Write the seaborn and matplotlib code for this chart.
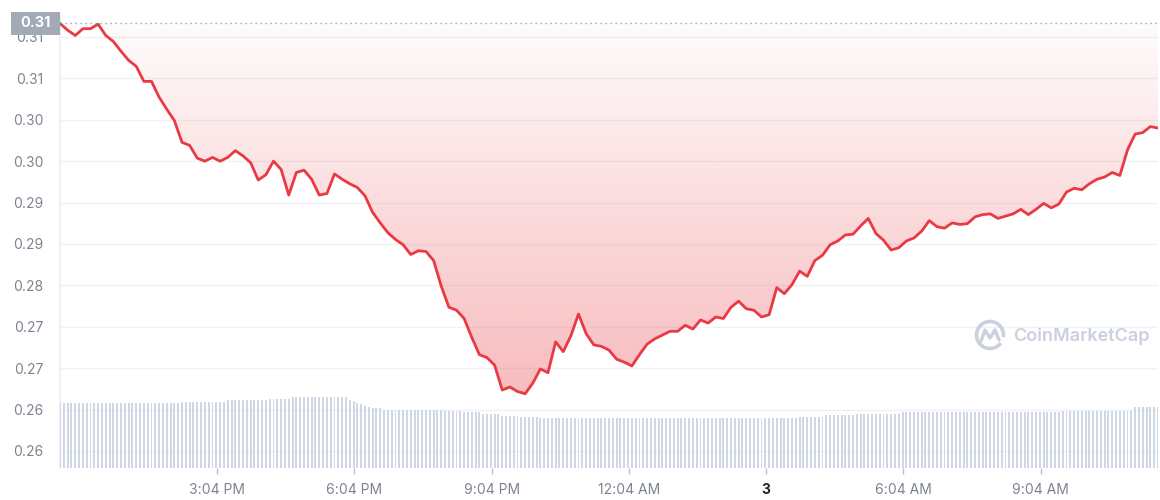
import numpy as np
import pandas as pd
import seaborn as sns
import matplotlib.pyplot as plt
import matplotlib.dates as mdates
import matplotlib.transforms as mtransforms
from matplotlib.colors import to_rgb
from matplotlib.patches import Rectangle, Arc
from matplotlib.lines import Line2D

# price every 10 minutes, starting 11:38
price = [
    0.3148, 0.3139, 0.3132, 0.3141, 0.3141, 0.3147, 0.3132, 0.3124, 0.3111, 0.3099,
    0.3091, 0.3071, 0.3071, 0.3050, 0.3034, 0.3019, 0.2990, 0.2986, 0.2969, 0.2965,
    0.2970, 0.2965, 0.2970, 0.2979, 0.2972, 0.2963, 0.2940, 0.2947, 0.2965, 0.2954,
    0.2920, 0.2950, 0.2953, 0.2941, 0.2920, 0.2922, 0.2948, 0.2941, 0.2935, 0.2930,
    0.2919, 0.2897, 0.2883, 0.2870, 0.2861, 0.2854, 0.2841, 0.2846, 0.2845, 0.2833,
    0.2799, 0.2771, 0.2767, 0.2756, 0.2731, 0.2708, 0.2704, 0.2694, 0.2661, 0.2665,
    0.2659, 0.2656, 0.2670, 0.2689, 0.2684, 0.2725, 0.2712, 0.2733, 0.2762, 0.2736,
    0.2721, 0.2719, 0.2714, 0.2702, 0.2698, 0.2693, 0.2708, 0.2722, 0.2729, 0.2734,
    0.2739, 0.2739, 0.2747, 0.2742, 0.2754, 0.2750, 0.2758, 0.2756, 0.2771, 0.2779,
    0.2769, 0.2767, 0.2758, 0.2761, 0.2797, 0.2789, 0.2801, 0.2819, 0.2812, 0.2833,
    0.2840, 0.2854, 0.2859, 0.2867, 0.2868, 0.2879, 0.2889, 0.2869, 0.2860, 0.2847,
    0.2850, 0.2859, 0.2863, 0.2872, 0.2886, 0.2878, 0.2876, 0.2883, 0.2881, 0.2882,
    0.2891, 0.2894, 0.2895, 0.2889, 0.2892, 0.2895, 0.2901, 0.2894, 0.2901, 0.2909,
    0.2903, 0.2908, 0.2924, 0.2929, 0.2927, 0.2935, 0.2941, 0.2944, 0.2950, 0.2946,
    0.2980, 0.3001, 0.3003, 0.3011, 0.3009,
]

# 24h volume (millions), every 5 minutes
volume = [
    123, 123, 123, 123, 123, 123, 123, 123, 123, 123, 123, 123, 123, 123, 123, 123,
    123, 123, 123, 123, 123, 123, 123, 123, 123, 123, 123, 123, 123, 123, 123, 123,
    125, 125, 125, 125, 125, 125, 125, 125, 125, 125, 125, 125,
    129, 129, 129, 129, 129, 129, 129, 129, 129, 129, 129,
    131, 131, 131, 131, 131, 131,
    134, 134, 134, 134, 134, 134, 134, 134, 134, 134, 134, 134, 134, 134, 134,
    130, 127, 124, 121, 118, 116,
    114, 114, 114,
    111, 111, 111, 111, 111, 111, 111, 111, 111, 111, 111, 111, 111, 111, 111, 111,
    108, 108, 108, 108, 108,
    106, 106, 106, 106, 106,
    103, 103, 103, 103, 103,
    99, 99, 99, 99, 99,
    96, 96, 96, 96, 96,
    94, 94, 94, 94, 94, 94, 94, 94, 94, 94, 94, 94, 94, 94, 94, 94, 94,
    94, 94, 94, 94, 94, 94, 94, 94, 94, 94, 94, 94, 94, 94, 94, 94, 94,
    94, 94, 94, 94, 94, 94, 94, 94, 94, 94, 94, 94, 94, 94, 94, 94, 94,
    94, 94, 94, 94, 94, 94, 94, 94, 94, 94, 94, 94, 94, 94, 94, 94, 94,
    96, 96, 96, 96, 96, 96, 96,
    100, 100, 100, 100, 100, 100, 100, 100,
    103, 103, 103, 103, 103, 103, 103, 103, 103, 103, 103, 103,
    106, 106, 106, 106, 106, 106, 106, 106, 106, 106, 106, 106, 106, 106,
    106, 106, 106, 106, 106, 106, 106, 106, 106, 106, 106, 106, 106, 106,
    106, 106, 106, 106, 106, 106, 106, 106, 106, 106, 106, 106, 106, 106,
    108, 108, 108, 108, 108, 108, 108, 108, 108, 108, 108, 108, 108, 108, 108, 108, 108, 108, 108,
    115, 115, 115, 115, 115, 115, 115,
]

open_price = 0.3148
open_label = "0.31"

y_ticks = [0.258, 0.2635, 0.269, 0.2745, 0.280, 0.2855, 0.291, 0.2965, 0.302, 0.3075, 0.313]
y_labels = ["0.26", "0.26", "0.27", "0.27", "0.28", "0.29", "0.29", "0.30", "0.30", "0.31", "0.31"]

x_tick_times = ["2024-05-02 15:04", "2024-05-02 18:04", "2024-05-02 21:04", "2024-05-03 00:04",
                "2024-05-03 03:04", "2024-05-03 06:04", "2024-05-03 09:04"]
x_labels = ["3:04 PM", "6:04 PM", "9:04 PM", "12:04 AM", "3", "6:04 AM", "9:04 AM"]

start = pd.Timestamp("2024-05-02 11:38")
price_time = pd.date_range(start, periods=len(price), freq="10min")
vol_time = pd.date_range(start, periods=len(volume), freq="5min")
df = pd.DataFrame({"time": price_time, "price": price})

RED = "#ea3943"
GREEN = "#16c784"
GREY = "#7d8391"

sns.set_theme(style="white")
plt.rcParams["font.family"] = ["Inter", "DejaVu Sans"]

fig = plt.figure(figsize=(11.6, 5), dpi=100)
ax = fig.add_axes([60 / 1160, 32 / 500, 1098 / 1160, 453 / 500])

ymin, ymax = 0.25574, 0.31592
x0 = mdates.date2num(start)
x1 = mdates.date2num(start + pd.Timedelta(hours=24))

# gradient fill between price and the opening price
poly = ax.fill_between(df["time"], df["price"], open_price, color="none", lw=0)
rgba = np.zeros((256, 1, 4))
rgba[..., :3] = to_rgb(RED)
rgba[..., 3] = np.linspace(0.34, 0.02, 256)[:, None]
im = ax.imshow(rgba, extent=[x0, x1, min(price), open_price], origin="lower",
               aspect="auto", zorder=1, interpolation="bilinear")
im.set_clip_path(poly.get_paths()[0], transform=ax.transData)

sns.lineplot(data=df, x="time", y="price", color=RED, lw=2, ax=ax, zorder=4)
sns.lineplot(data=df, x="time", y="price", color=GREEN, lw=2, ax=ax, zorder=5)
clip = Rectangle((x0, open_price - 0.00012), x1 - x0, 0.01, transform=ax.transData)
ax.lines[-1].set_clip_path(clip)

ax.axhline(open_price, color="#98a1b2", ls=(0, (1, 2.6)), lw=1, zorder=3)

ax.set_xlim(x0, x1)
ax.set_ylim(ymin, ymax)
ax.set_yticks(y_ticks, y_labels)
ax.set_xticks(pd.to_datetime(x_tick_times), x_labels)
ax.set_xlabel("")
ax.set_ylabel("")
ax.yaxis.grid(True, color="#eff2f5", lw=1)
ax.xaxis.grid(False)
for s in ["top", "right", "bottom"]:
    ax.spines[s].set_visible(False)
ax.spines["left"].set_color("#eceff3")
ax.tick_params(axis="y", length=0, pad=12, labelsize=10, labelcolor=GREY)
ax.tick_params(axis="x", length=4, width=1, color="#b8bfcc", pad=7, labelsize=10,
               labelcolor=GREY, bottom=True, direction="out")
lbl = ax.get_xticklabels()[4]
lbl.set_fontweight("bold")
lbl.set_color("#222531")

# volume bars
ax2 = ax.twinx()
ax2.bar(vol_time, volume, width=2.6 / 1440, color="#cfd6e4", lw=0)
ax2.set_ylim(0, 860)
ax2.set_xlim(x0, x1)
ax2.set_yticks([])
for s in ax2.spines.values():
    s.set_visible(False)

# opening price badge
trans = mtransforms.blended_transform_factory(ax.transAxes, ax.transData)
badge_h = 0.00306
ax.add_patch(Rectangle((-49 / 1098, open_price - badge_h / 2), 49 / 1098, badge_h,
                       transform=trans, fc="#a3a9b6", ec="none", clip_on=False, zorder=6))
ax.text(-24.5 / 1098, open_price, open_label, transform=trans, ha="center", va="center",
        color="white", fontsize=10.5, fontweight="bold", zorder=7)

# watermark
wm = "#cbd1dc"
fig.text(1013 / 1160, 1 - 336 / 500, "CoinMarketCap", color=wm, fontsize=13,
         fontweight="semibold", ha="left", va="center")
fig.add_artist(Arc((990 / 1160, 1 - 335 / 500), 27 / 1160, 27 / 500, theta1=-20, theta2=300,
                   color=wm, lw=2.6, transform=fig.transFigure))
fig.add_artist(Line2D(np.array([981, 985, 990, 995, 999]) / 1160,
                      1 - np.array([341, 330, 338, 330, 340]) / 500,
                      color=wm, lw=2.4, transform=fig.transFigure))

fig.savefig("out.png", dpi=100)
